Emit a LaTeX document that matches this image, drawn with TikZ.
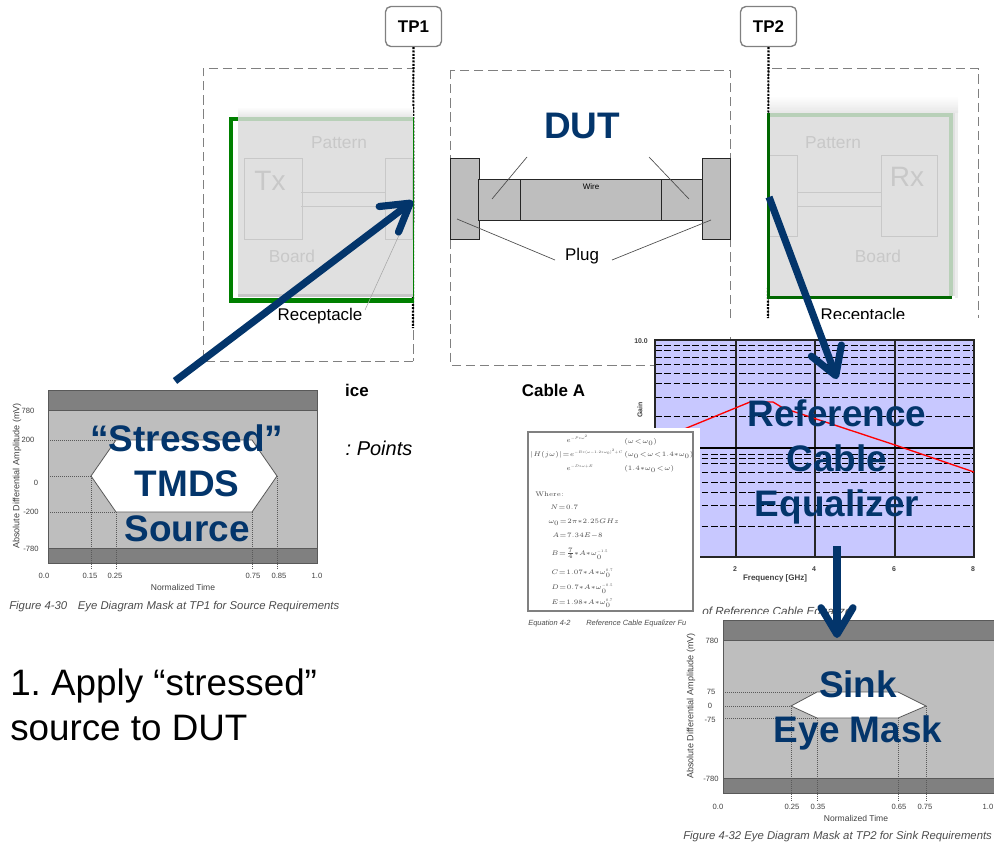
\documentclass[tikz,border=0pt]{standalone}
\usepackage[no-math]{fontspec}
\setmainfont{Liberation Sans}
\usetikzlibrary{arrows.meta}
\frenchspacing
\definecolor{navy}{RGB}{3,53,107}
\definecolor{bandgray}{RGB}{128,128,128}
\definecolor{midgray}{RGB}{190,190,190}
\definecolor{ghost}{RGB}{200,200,200}
\definecolor{lilac}{RGB}{200,200,255}
\definecolor{boardgreen}{RGB}{0,128,0}
\definecolor{palegreen}{RGB}{184,208,184}
\definecolor{boardgray}{RGB}{224,224,224}
\tikzset{
  bigtext/.style={text=navy,font=\bfseries\fontsize{27.7}{33.75}\selectfont,align=center,inner sep=0},
  bigarrow/.style={draw=navy,line width=5.4pt,line cap=round,-{Straight Barb[round,length=20pt,width=24pt]}},
  tpbox/.style={draw=gray,line width=1pt,rounded corners=4pt,fill=white,minimum width=42pt,minimum height=30pt,inner sep=0,font=\bfseries\fontsize{12.7}{14}\selectfont},
  tpline/.style={draw=black,line width=1.6pt,dash pattern=on 1.5pt off 1pt},
  dashbox/.style={draw=gray,line width=.7pt,dash pattern=on 7pt off 3.6pt},
  ghostbox/.style={draw=ghost,line width=.7pt},
  ghosttext/.style={text=ghost,inner sep=0,font=\fontsize{13}{14}\selectfont},
  mask/.style={draw=black!65,line width=.6pt},
  guide/.style={draw=black!65,line width=.5pt,densely dotted},
  tick/.style={text=black!75,inner sep=0,font=\fontsize{5.7}{7}\selectfont},
  caption/.style={text=black!70,inner sep=0,anchor=west,font=\itshape\fontsize{8.5}{10}\selectfont},
  eq/.style={text=black!70,inner sep=0,anchor=west,font=\fontsize{5.5}{7}\selectfont,text height=4pt,text depth=1pt,
    execute at begin node={\medmuskip=0mu\thickmuskip=1mu\relax}},
}
\newcommand{\tinyexp}[1]{\scalebox{.55}{$#1$}}
\begin{document}
\begin{tikzpicture}[x=.75pt,y=-.75pt]
\useasboundingbox (0,0) rectangle (994,845);

% test fixture
\draw[dashbox] (413,361) -- (203,361) -- (203,68) -- (413,68) -- cycle;
\draw[dashbox] (450,70) rectangle (730,365);
\draw[dashbox] (768,318) -- (768,68) -- (978,68) -- (978,318);

\node[tpbox] (TP1) at (413.5,26.5) {TP1};
\node[tpbox] (TP2) at (768.5,26.5) {TP2};
\coordinate (tp1end) at (413,328);
\coordinate (tp2end) at (768,318);
\path [tpline] (TP1) edge (tp1end);
\path [tpline] (TP2) edge (tp2end);

\node[inner sep=0,font=\fontsize{12.7}{14}\selectfont] (recL) at (320,316) {Receptacle};
\node[inner sep=0,font=\fontsize{12.7}{14}\selectfont] (recR) at (863,316.5) {Receptacle};
\fill[white] (640,319) rectangle (994,336);

% left board
\fill[boardgreen] (229,117) rectangle (233,303);
\fill[boardgreen] (229,117) rectangle (238,121);
\fill[boardgreen] (229,298) rectangle (414,303);
\fill[boardgreen] (412.5,117) rectangle (414,303);
\fill[palegreen] (238,117) rectangle (412.5,121);
\fill[boardgray] (238,121) rectangle (412.5,294);
\fill[black!22] (238,294) rectangle (412.5,297);
\shade[top color=white,bottom color=black!10] (238,107) rectangle (412.5,117);
\draw[ghostbox] (244,158) rectangle (302,239);
\draw[ghostbox] (385,158) rectangle (412,239);
\draw[ghostbox] (301,192) -- (385,192);
\draw[ghostbox] (301,206) -- (385,206);
\node[ghosttext] (patL) at (339,143) {Pattern};
\node[ghosttext,font=\fontsize{21}{24}\selectfont] (txL) at (270,181) {Tx};
\node[ghosttext] (boardL) at (292,256) {Board};
\draw[black!35,line width=.4pt] (365,310) -- (400,233);

% right board
\fill[boardgreen!80!black] (767,113) rectangle (770,299);
\fill[boardgreen!80!black] (767,296) rectangle (952,299);
\fill[boardgray] (770,113) rectangle (955,296);
\shade[top color=white,bottom color=black!12,opacity=.8] (770,96) rectangle (958,113);
\fill[black!7] (955,113) rectangle (958,298);
\draw[palegreen,line width=3pt] (770,115) -- (950.5,115) -- (950.5,296);
\draw[ghostbox] (770,155) -- (797,155) -- (797,236) -- (770,236);
\draw[ghostbox] (881,155) rectangle (937,236);
\draw[ghostbox] (797,192) -- (881,192);
\draw[ghostbox] (797,206) -- (881,206);
\node[ghosttext] (patR) at (833,143) {Pattern};
\node[ghosttext,font=\fontsize{21}{24}\selectfont] (rxR) at (907,177) {Rx};
\node[ghosttext] (boardR) at (878,256) {Board};

% cable
\begin{scope}[every path/.style={draw=black!85,fill=midgray,line width=.7pt}]
\draw (450,158) rectangle (479,239);
\draw (702,158) rectangle (730,239);
\draw (478,179) rectangle (702,220);
\draw (520,179) -- (520,220);
\draw (661,179) -- (661,220);
\end{scope}
\node[inner sep=0,font=\fontsize{6}{7}\selectfont] (wire) at (591,186.5) {Wire};
\node[inner sep=0,font=\fontsize{12.7}{14}\selectfont] (plug) at (582,256) {Plug};
\draw[black!70,line width=.5pt] (492,199) -- (527,157);
\draw[black!70,line width=.5pt] (689,199) -- (649,157);
\draw[black!70,line width=.5pt] (555,260) -- (457,219);
\draw[black!70,line width=.5pt] (612,260) -- (711,220);

\node[inner sep=0,font=\bfseries\fontsize{12.7}{14}\selectfont] (cableA) at (553.5,390) {Cable A};
\node[inner sep=0,font=\bfseries\fontsize{12.7}{14}\selectfont] (ice) at (357,390) {ice};
\node[inner sep=0,font=\itshape\fontsize{15}{17}\selectfont] (points) at (379,448) {: Points};

% source eye mask
\fill[midgray] (48,390) rectangle (317,563);
\fill[bandgray] (48,390) rectangle (317,410);
\fill[bandgray] (48,548) rectangle (317,563);
\draw[mask] (48,390) rectangle (317,563);
\draw[mask] (48,410) -- (317,410);
\draw[mask] (48,548) -- (317,548);
\draw[mask,fill=white] (91,476) -- (116,440) -- (252,440) -- (277,476) -- (252,512) -- (116,512) -- cycle;
\foreach \y/\x in {440/116,476/91,512/116}
  \draw[guide] (48,\y) -- (\x,\y);
\foreach \x/\y in {91/476,116/512,252/512,277/476}
  \draw[guide] (\x,\y) -- (\x,570);
\node[tick] (sa) at (28,411) {780};
\node[tick] (sb) at (28,440) {200};
\node[tick] (sc) at (36,483) {0};
\node[tick] (sd) at (31,512) {-200};
\node[tick] (se) at (31,549) {-780};
\node[tick,rotate=90,font=\fontsize{6.8}{8}\selectfont] (sy) at (17,476) {Absolute Differential Amplitude (mV)};
\foreach \x/\t in {44/0.0,90/0.15,115/0.25,253/0.75,279/0.85,317/1.0}
  \node[tick] (st\x) at (\x,576) {\t};
\node[tick,font=\fontsize{6.4}{8}\selectfont] (sx) at (183,587) {Normalized Time};
\node[caption] (scap) at (9,607) {Figure 4-30\hspace{8pt}Eye Diagram Mask at TP1 for Source Requirements};

% equalizer chart
\fill[lilac] (655,340) rectangle (974,557);
\foreach \y in {345,350,357,364,373,383,397,416,454,458,463,472,482,492,505,526}
  \draw[black,line width=.7pt,dash pattern=on 5pt off 2pt] (655,\y) -- (974,\y);
\foreach \x in {736,815,895}
  \draw[black!85,line width=.8pt] (\x,340) -- (\x,557);
\draw[black,line width=.8pt] (655,448) -- (974,448);
\draw[black!85,line width=.8pt] (655,340) rectangle (974,557);
\draw[red,line width=1pt] (655,441) -- (750,402) -- (773,402) -- (783,408) -- (895,445) -- (974,472);
\node[tick,font=\bfseries\fontsize{5.2}{6}\selectfont] (ca) at (641,341) {10.0};
\node[tick,rotate=90,font=\bfseries\fontsize{5.2}{6}\selectfont] (cy) at (640,410) {Gain};
\foreach \x/\t in {735/2,814/4,894/6,973/8}
  \node[tick,font=\bfseries\fontsize{5.2}{6}\selectfont] (cx\t) at (\x,569) {\t};
\node[tick,font=\bfseries\fontsize{6}{7}\selectfont] (cx) at (775,578) {Frequency [GHz]};
\node[caption,font=\itshape\fontsize{8.8}{10}\selectfont] (ccap) at (702,612) {of Reference Cable Equalizer};

% formula box
\fill[white] (520,428) rectangle (700,620);
\draw[gray,line width=.8pt] (528,432) rectangle (693,611);
\node[eq] (h1) at (566,440) {$e^{\tinyexp{-P*\omega^2}}$};
\node[eq] (h2) at (530,454) {$|H(j\omega)|=e^{\tinyexp{-B*(\omega-1.2*\omega_0)^2+C}}$};
\node[eq] (h3) at (566,468) {$e^{\tinyexp{-D*\omega+E}}$};
\node[eq] (c1) at (624,441) {$(\omega<\omega_0)$};
\node[eq] (c2) at (624,454) {$(\omega_0<\omega<1.4*\omega_0)$};
\node[eq] (c3) at (624,468) {$(1.4*\omega_0<\omega)$};
\node[eq] (w0) at (535,494) {$\mathrm{Where:}$};
\node[eq] (w1) at (550,507) {$N=0.7$};
\node[eq] (w2) at (548,521) {$\omega_0=2\pi*2.25GHz$};
\node[eq] (w3) at (552,535) {$A=7.34E-8$};
\node[eq] (w4) at (551,553) {$B=\frac{7}{4}*A*\omega_0^{\tinyexp{-1.5}}$};
\node[eq] (w5) at (551,572) {$C=1.07*A*\omega_0^{\tinyexp{0.7}}$};
\node[eq] (w6) at (551,587) {$D=0.7*A*\omega_0^{\tinyexp{-0.5}}$};
\node[eq] (w7) at (551,602) {$E=1.98*A*\omega_0^{\tinyexp{0.7}}$};
\node[caption,font=\itshape\fontsize{5.6}{7}\selectfont] (ecapa) at (528,624) {Equation 4-2};
\node[caption,font=\itshape\fontsize{5.6}{7}\selectfont] (ecapb) at (586,624) {Reference Cable Equalizer Fu};

% sink eye mask
\fill[white] (700,613.5) rectangle (994,620);
\fill[midgray] (723,620) rectangle (994,793);
\fill[bandgray] (723,620) rectangle (994,640);
\fill[bandgray] (723,778) rectangle (994,793);
\draw[mask] (994,620) -- (723,620) -- (723,793) -- (994,793);
\draw[mask] (723,640) -- (994,640);
\draw[mask] (723,778) -- (994,778);
\draw[mask,fill=white] (791,706) -- (817,692) -- (898,692) -- (926,706) -- (898,718) -- (817,718) -- cycle;
\foreach \y/\x in {692/817,706/791,718/817}
  \draw[guide] (723,\y) -- (\x,\y);
\foreach \x/\y in {791/706,817/718,898/718,926/706}
  \draw[guide] (\x,\y) -- (\x,802);
\node[tick] (ka) at (712,641) {780};
\node[tick] (kb) at (711,692) {75};
\node[tick] (kc) at (710,706) {0};
\node[tick] (kd) at (710,720) {-75};
\node[tick] (ke) at (711,779) {-780};
\node[tick,rotate=90,font=\fontsize{6.8}{8}\selectfont] (ky) at (691,706) {Absolute Differential Amplitude (mV)};
\foreach \x/\t in {718/0.0,792/0.25,818/0.35,899/0.65,925/0.75,988/1.0}
  \node[tick] (kt\x) at (\x,807) {\t};
\node[tick,font=\fontsize{6.4}{8}\selectfont] (kx) at (856,818) {Normalized Time};
\node[caption] (kcap) at (683,837) {Figure 4-32 Eye Diagram Mask at TP2 for Sink Requirements};

% big labels
\node[bigtext] (DUT) at (582,126) {DUT};
\node[bigtext] (stressed) at (187,483) {“Stressed”\\TMDS\\Source};
\node[bigtext] (refcable) at (837,462) {Reference\\Cable\\Equalizer};
\node[bigtext] (sink) at (858,710) {Sink\\Eye Mask};
\node[inner sep=0,anchor=west,align=left,font=\fontsize{27.6}{33.75}\selectfont] (apply) at (10,704.5) {1. Apply “stressed”\\source to DUT};

% arrows
\coordinate (a1) at (175,381);
\coordinate (a1tip) at (413,201);
\coordinate (a2) at (769,197);
\coordinate (a2tip) at (837,379);
\coordinate (a3) at (837,546);
\coordinate (a3tip) at (837,638);
\draw[bigarrow,line cap=butt] (a1) -- (a1tip);
\draw[bigarrow,line cap=butt] (a2) -- (a2tip);
\draw[bigarrow,line cap=butt] (a3) -- (a3tip);
\end{tikzpicture}
\end{document}
